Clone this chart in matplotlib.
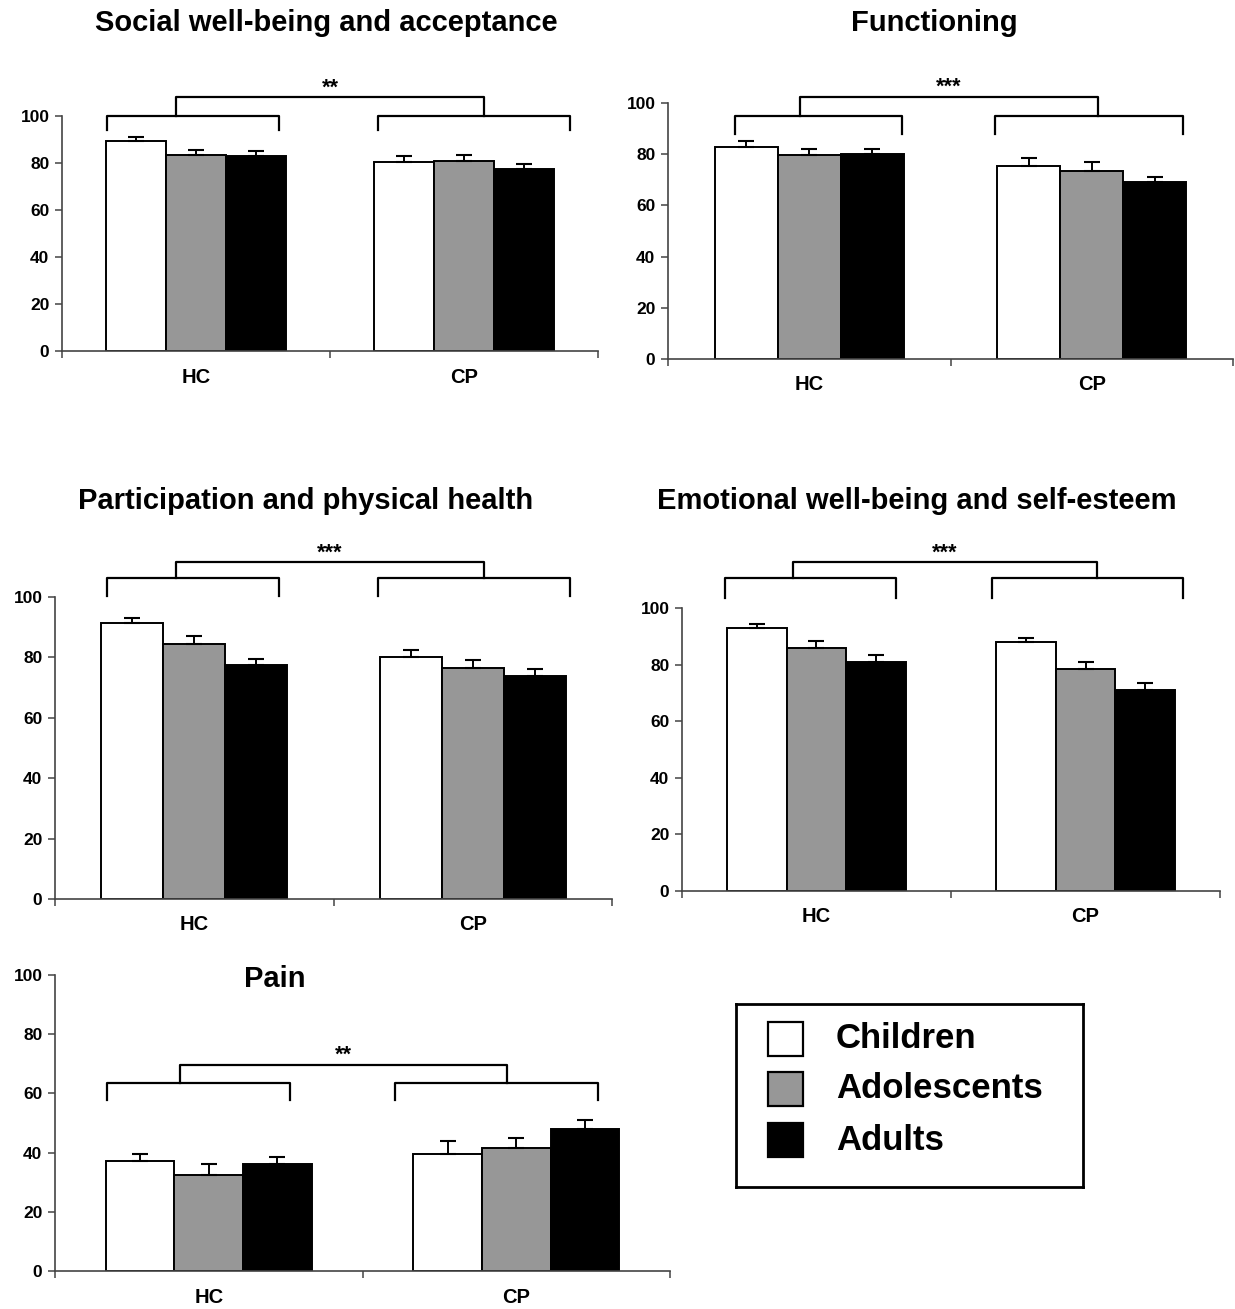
import matplotlib
import matplotlib.pyplot as plt
import numpy as np
from matplotlib.patches import Rectangle

matplotlib.rcParams["font.family"] = ["Liberation Sans", "DejaVu Sans"]
matplotlib.rcParams["font.weight"] = "bold"

W, H = 1235, 1309

groups = ["HC", "CP"]
ages = ["Children", "Adolescents", "Adults"]
age_colors = ["white", "#979797", "black"]

titles = [
    "Social well-being and acceptance",
    "Functioning",
    "Participation and physical health",
    "Emotional well-being and self-esteem",
    "Pain",
]
stars = ["**", "***", "***", "***", "**"]

# mean scores per panel: rows = age group, columns = HC, CP
social_mean = [[89.5, 80.5], [83.5, 81.0], [83.0, 77.5]]
social_err = [[1.5, 2.5], [2.0, 2.5], [2.0, 2.0]]
func_mean = [[83.0, 75.5], [79.5, 73.5], [80.0, 69.0]]
func_err = [[2.0, 3.0], [2.5, 3.5], [2.0, 2.0]]
partic_mean = [[91.5, 80.0], [84.5, 76.5], [77.5, 74.0]]
partic_err = [[1.5, 2.5], [2.5, 2.5], [2.0, 2.0]]
emo_mean = [[93.0, 88.0], [86.0, 78.5], [81.0, 71.0]]
emo_err = [[1.5, 1.5], [2.5, 2.5], [2.5, 2.5]]
pain_mean = [[37.0, 39.5], [32.5, 41.5], [36.0, 48.0]]
pain_err = [[2.5, 4.5], [3.5, 3.5], [2.5, 3.0]]

means = [social_mean, func_mean, partic_mean, emo_mean, pain_mean]
errs = [social_err, func_err, partic_err, emo_err, pain_err]

# axes boxes in pixels: left, right, top(y of 100), bottom(y of 0)
boxes = [
    (62, 598, 116, 351),
    (668, 1233, 103, 359),
    (55, 612, 597, 899),
    (682, 1220, 608, 891),
    (55, 670, 975, 1271),
]
# title centre in pixels
title_pos = [(326, 23), (934, 23), (306, 501), (917, 501), (275, 979)]

# brackets: (hc_x0, hc_x1, cp_x0, cp_x1, y_bar, y_leg, top_x0, top_x1, y_top, y_star)
brackets = [
    (0.168, 0.81, 1.18, 1.896, 100, 94, 0.425, 1.575, 108, 112),
    (0.237, 0.828, 1.157, 1.823, 95, 88, 0.467, 1.522, 102.3, 106),
    (0.187, 0.804, 1.16, 1.85, 106.3, 100.3, 0.434, 1.54, 111.6, 114.5),
    (0.16, 0.796, 1.152, 1.862, 110.6, 103.5, 0.413, 1.543, 116.3, 119.5),
    (0.169, 0.764, 1.106, 1.766, 63.5, 57.8, 0.407, 1.47, 69.6, 73),
]
label_y = [377, 384, 924, 916, 1297]

fig = plt.figure(figsize=(W / 100, H / 100), dpi=100)

centers = np.array([0.5, 1.5])
bw = 0.223

for k in range(5):
    l, r, t, b = boxes[k]
    ax = fig.add_axes([l / W, 1 - b / H, (r - l) / W, (b - t) / H])
    for i in range(3):
        x = centers + (i - 1) * bw
        ax.bar(
            x, means[k][i], width=bw, color=age_colors[i], edgecolor="black",
            linewidth=1.4, zorder=2,
        )
        ax.errorbar(
            x, means[k][i], yerr=[np.zeros(2), errs[k][i]], fmt="none",
            ecolor="black", elinewidth=1.4, capsize=5.5, capthick=1.5, zorder=3,
        )
    ax.set_xlim(0, 2)
    ax.set_ylim(0, 100)
    ax.set_yticks(np.arange(0, 101, 20))
    ax.set_xticks([0, 1, 2])
    ax.set_xticklabels([])
    ax.set_xticks(centers, minor=True)
    ax.set_xticklabels(groups, minor=True)
    ax.tick_params(axis="x", which="minor", length=0, labelsize=14.5,
                   pad=((label_y[k] - b) - 8.5) / 1.389)
    ax.tick_params(axis="x", which="major", length=5, width=1.1, color="#444")
    ax.tick_params(axis="y", length=5, width=1.1, color="#444", labelsize=12.5, pad=4)
    for s in ["top", "right"]:
        ax.spines[s].set_visible(False)
    for s in ["left", "bottom"]:
        ax.spines[s].set_color("#444")
        ax.spines[s].set_linewidth(1.2)

    hx0, hx1, cx0, cx1, yb, yl, tx0, tx1, yt, ys = brackets[k]
    lw = 1.6
    for x0, x1 in [(hx0, hx1), (cx0, cx1)]:
        ax.plot([x0, x0, x1, x1], [yl, yb, yb, yl], color="black", lw=lw,
                clip_on=False)
    ax.plot([tx0, tx0, tx1, tx1], [yb, yt, yt, yb], color="black", lw=lw,
            clip_on=False)
    ax.text((tx0 + tx1) / 2, ys, stars[k], ha="center", va="center",
            fontsize=15.5, clip_on=False)

    tx, ty = title_pos[k]
    fig.text(tx / W, 1 - ty / H, titles[k], ha="center", va="center",
             fontsize=21, fontweight="bold")

# legend box, drawn in its own pixel-coordinate axes
lx0, lx1, ly0, ly1 = 736, 1083, 1004, 1187
lax = fig.add_axes([lx0 / W, 1 - ly1 / H, (lx1 - lx0) / W, (ly1 - ly0) / H])
lax.set_xlim(lx0, lx1)
lax.set_ylim(ly1, ly0)
lax.set_xticks([])
lax.set_yticks([])
for s in lax.spines.values():
    s.set_linewidth(2)
    s.set_color("black")
row_y = [1039, 1089, 1140]
for i, name in enumerate(ages):
    lax.add_patch(Rectangle((768, row_y[i] - 17), 35, 34, facecolor=age_colors[i],
                            edgecolor="black", linewidth=1.6))
    lax.text(836, row_y[i], name, ha="left", va="center", fontsize=25,
             fontweight="bold")

fig.savefig("out.png", dpi=100)
